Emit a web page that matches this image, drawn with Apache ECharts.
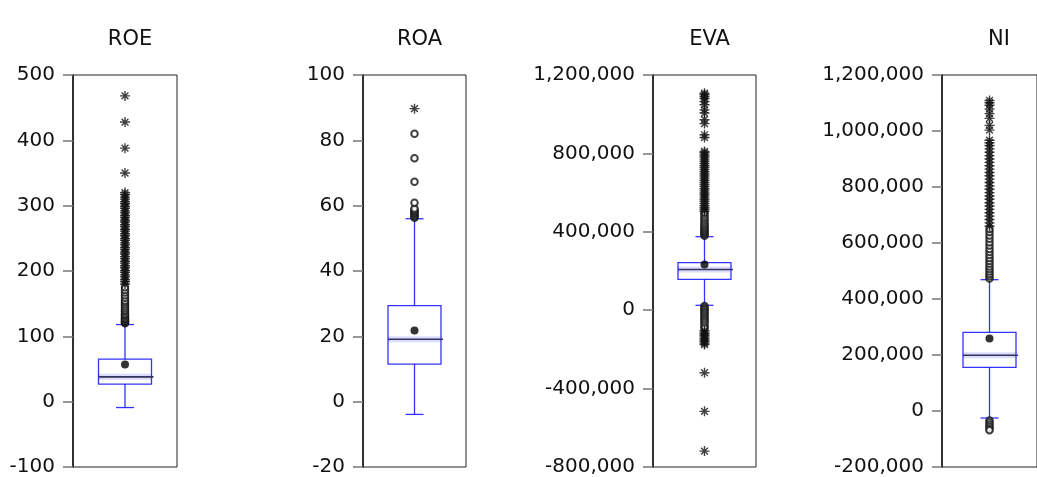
<!DOCTYPE html>
<html>
<head>
<meta charset="utf-8">
<script src="https://cdn.jsdelivr.net/npm/echarts@6/dist/echarts.min.js"></script>
<style>html,body{margin:0;padding:0;background:#fff}#c{width:1037px;height:477px}</style>
</head>
<body>
<div id="c"></div>
<script>
// ---- data ----
const names = ['ROE', 'ROA', 'EVA', 'NI'];
// [lower whisker, Q1, median, Q3, upper whisker]
const roeBox = [-9, 27, 38, 65, 118];
const roaBox = [-3.9, 11.5, 19.1, 29.4, 56];
const evaBox = [25000, 157000, 208000, 243000, 375000];
const niBox  = [-25000, 156000, 199000, 280600, 469000];
const means = [57, 21.8, 233000, 259000];
// near outliers (circles)
const roeNear = [120, 121, 122, 123, 124, 126, 127, 129, 131, 133, 135, 138, 140, 143, 146, 149, 152, 155, 159, 163, 167, 171, 175];
const roaNear = [56.3, 56.7, 57.1, 57.5, 57.9, 58.3, 58.7, 59.1, 60.9, 67.3, 74.5, 82.0];
const evaNear = [380000, 386000, 392000, 399000, 406000, 413000, 421000, 429000, 437000, 446000, 456000, 466000, 477000, 488000, 498000,
                 21000, 13000, 6000, -2000, -10000, -18000, -27000, -36000, -45000, -54000, -63000, -73000, -83000, -93000];
const niNear  = [-34000, -41000, -49000, -56000, -63000, -69000,
                 473000, 481000, 489000, 498000, 507000, 516000, 526000, 536000, 546000, 557000, 568000, 579000, 591000, 603000, 615000, 627000, 639000, 650000];
// far outliers (stars)
const roeFar = [180, 184, 187, 191, 194, 198, 201, 205, 208, 212, 215, 219, 222, 226, 229, 233, 236, 240, 243, 247, 250, 254, 257, 261, 264,
                268, 271, 275, 278, 282, 285, 289, 292, 296, 299, 303, 306, 310, 313, 317, 320, 350, 388, 428, 468];
const roaFar = [89.7];
const evaFar = [505000, 515000, 524000, 534000, 545000, 556000, 566000, 577000, 588000, 598000, 609000, 620000, 631000, 642000, 652000,
                663000, 674000, 685000, 695000, 706000, 717000, 728000, 738000, 749000, 760000, 771000, 782000, 792000, 803000, 810000,
                881000, 895000, 952000, 972000, 1006000, 1022000, 1048000, 1065000, 1080000, 1090000, 1100000, 1107000,
                -104000, -112000, -120000, -128000, -136000, -144000, -152000, -160000, -168000, -175000, -319000, -516000, -719000];
const niFar = [660000, 672000, 684000, 696000, 708000, 720000, 732000, 744000, 756000, 768000, 780000, 792000, 804000, 816000, 828000,
               840000, 852000, 864000, 876000, 888000, 900000, 912000, 924000, 936000, 948000, 958000, 967000,
               1003000, 1020000, 1045000, 1062000, 1078000, 1092000, 1101000, 1109000];
const yMin = [-100, -20, -800000, -200000];
const yMax = [500, 100, 1200000, 1200000];
const yStep = [100, 20, 400000, 200000];

const boxes = [roeBox, roaBox, evaBox, niBox];
const nears = [roeNear, roaNear, evaNear, niNear];
const fars = [roeFar, roaFar, evaFar, niFar];

// ---- layout ----
const lefts = [73, 363, 653, 942];
const widths = [104, 103, 103, 104];
const TOP = 75, H = 397;
const FONT = 'DejaVu Sans';
const STAR = 'path://M5,0L5,10M0,5L10,5M1.6,1.6L8.4,8.4M8.4,1.6L1.6,8.4';
const BLUE = 'rgba(0,0,255,0.8)';

const grids = [], xAxes = [], yAxes = [], series = [], titles = [];
names.forEach((n, i) => {
  grids.push({left: lefts[i], top: TOP, width: widths[i], height: H, show: true,
    borderColor: '#222', borderWidth: 1, backgroundColor: 'transparent'});
  xAxes.push({type: 'value', gridIndex: i, min: 0, max: 1, show: false});
  yAxes.push({type: 'value', gridIndex: i, min: yMin[i], max: yMax[i], interval: yStep[i],
    axisLine: {show: true, lineStyle: {color: '#111', width: 1.5}},
    axisTick: {show: true, length: 10, lineStyle: {color: '#777', width: 1.5}},
    splitLine: {show: false},
    axisLabel: {margin: 18, color: '#111', fontFamily: FONT, fontSize: 20,
      formatter: v => Number(v).toLocaleString('en-US')}});
  titles.push({text: n, left: lefts[i] + widths[i] / 2, top: 24, textAlign: 'center',
    textStyle: {fontFamily: FONT, fontSize: 21, fontWeight: 'normal', color: '#111'}});
  series.push({
    type: 'custom', xAxisIndex: i, yAxisIndex: i, z: 2,
    data: [[0.5].concat(boxes[i])],
    renderItem: (params, api) => {
      const x = api.value(0);
      const pLo = api.coord([x, api.value(1)]);
      const pQ1 = api.coord([x, api.value(2)]);
      const pMd = api.coord([x, api.value(3)]);
      const pQ3 = api.coord([x, api.value(4)]);
      const pHi = api.coord([x, api.value(5)]);
      const cx = pMd[0], hw = 26.5, cw = 9;
      const ls = {stroke: BLUE, lineWidth: 1.3, fill: null};
      return {type: 'group', children: [
        {type: 'line', shape: {x1: cx, y1: pQ3[1], x2: cx, y2: pHi[1]}, style: ls},
        {type: 'line', shape: {x1: cx, y1: pQ1[1], x2: cx, y2: pLo[1]}, style: ls},
        {type: 'line', shape: {x1: cx - cw, y1: pHi[1], x2: cx + cw, y2: pHi[1]}, style: ls},
        {type: 'line', shape: {x1: cx - cw, y1: pLo[1], x2: cx + cw, y2: pLo[1]}, style: ls},
        {type: 'rect', shape: {x: cx - hw, y: pMd[1] - 3, width: 2 * hw, height: 6},
          style: {fill: 'rgba(90,90,255,0.22)', stroke: null}},
        {type: 'rect', shape: {x: cx - hw, y: pQ3[1], width: 2 * hw, height: pQ1[1] - pQ3[1]},
          style: {fill: null, stroke: BLUE, lineWidth: 1.3}},
        {type: 'line', shape: {x1: cx - hw, y1: pMd[1], x2: cx + hw + 2, y2: pMd[1]},
          style: {stroke: '#33335a', lineWidth: 1.6}}
      ]};
    }
  });
  series.push({type: 'scatter', xAxisIndex: i, yAxisIndex: i, z: 3, silent: true,
    symbol: 'emptyCircle', symbolSize: 6.5,
    itemStyle: {color: '#111', borderColor: '#111', borderWidth: 1},
    data: nears[i].map(v => [0.5, v])});
  series.push({type: 'scatter', xAxisIndex: i, yAxisIndex: i, z: 3, silent: true,
    symbol: STAR, symbolSize: 10,
    itemStyle: {color: 'rgba(0,0,0,0)', borderColor: '#111', borderWidth: 1.4},
    data: fars[i].map(v => [0.5, v])});
  series.push({type: 'scatter', xAxisIndex: i, yAxisIndex: i, z: 4, silent: true,
    symbol: 'circle', symbolSize: 8, itemStyle: {color: '#000'},
    data: [[0.5, means[i]]]});
});

const chart = echarts.init(document.getElementById('c'), null, {renderer: 'canvas'});
chart.setOption({
  animation: false,
  backgroundColor: '#fff',
  title: titles,
  grid: grids, xAxis: xAxes, yAxis: yAxes, series: series
});
</script>
</body>
</html>
